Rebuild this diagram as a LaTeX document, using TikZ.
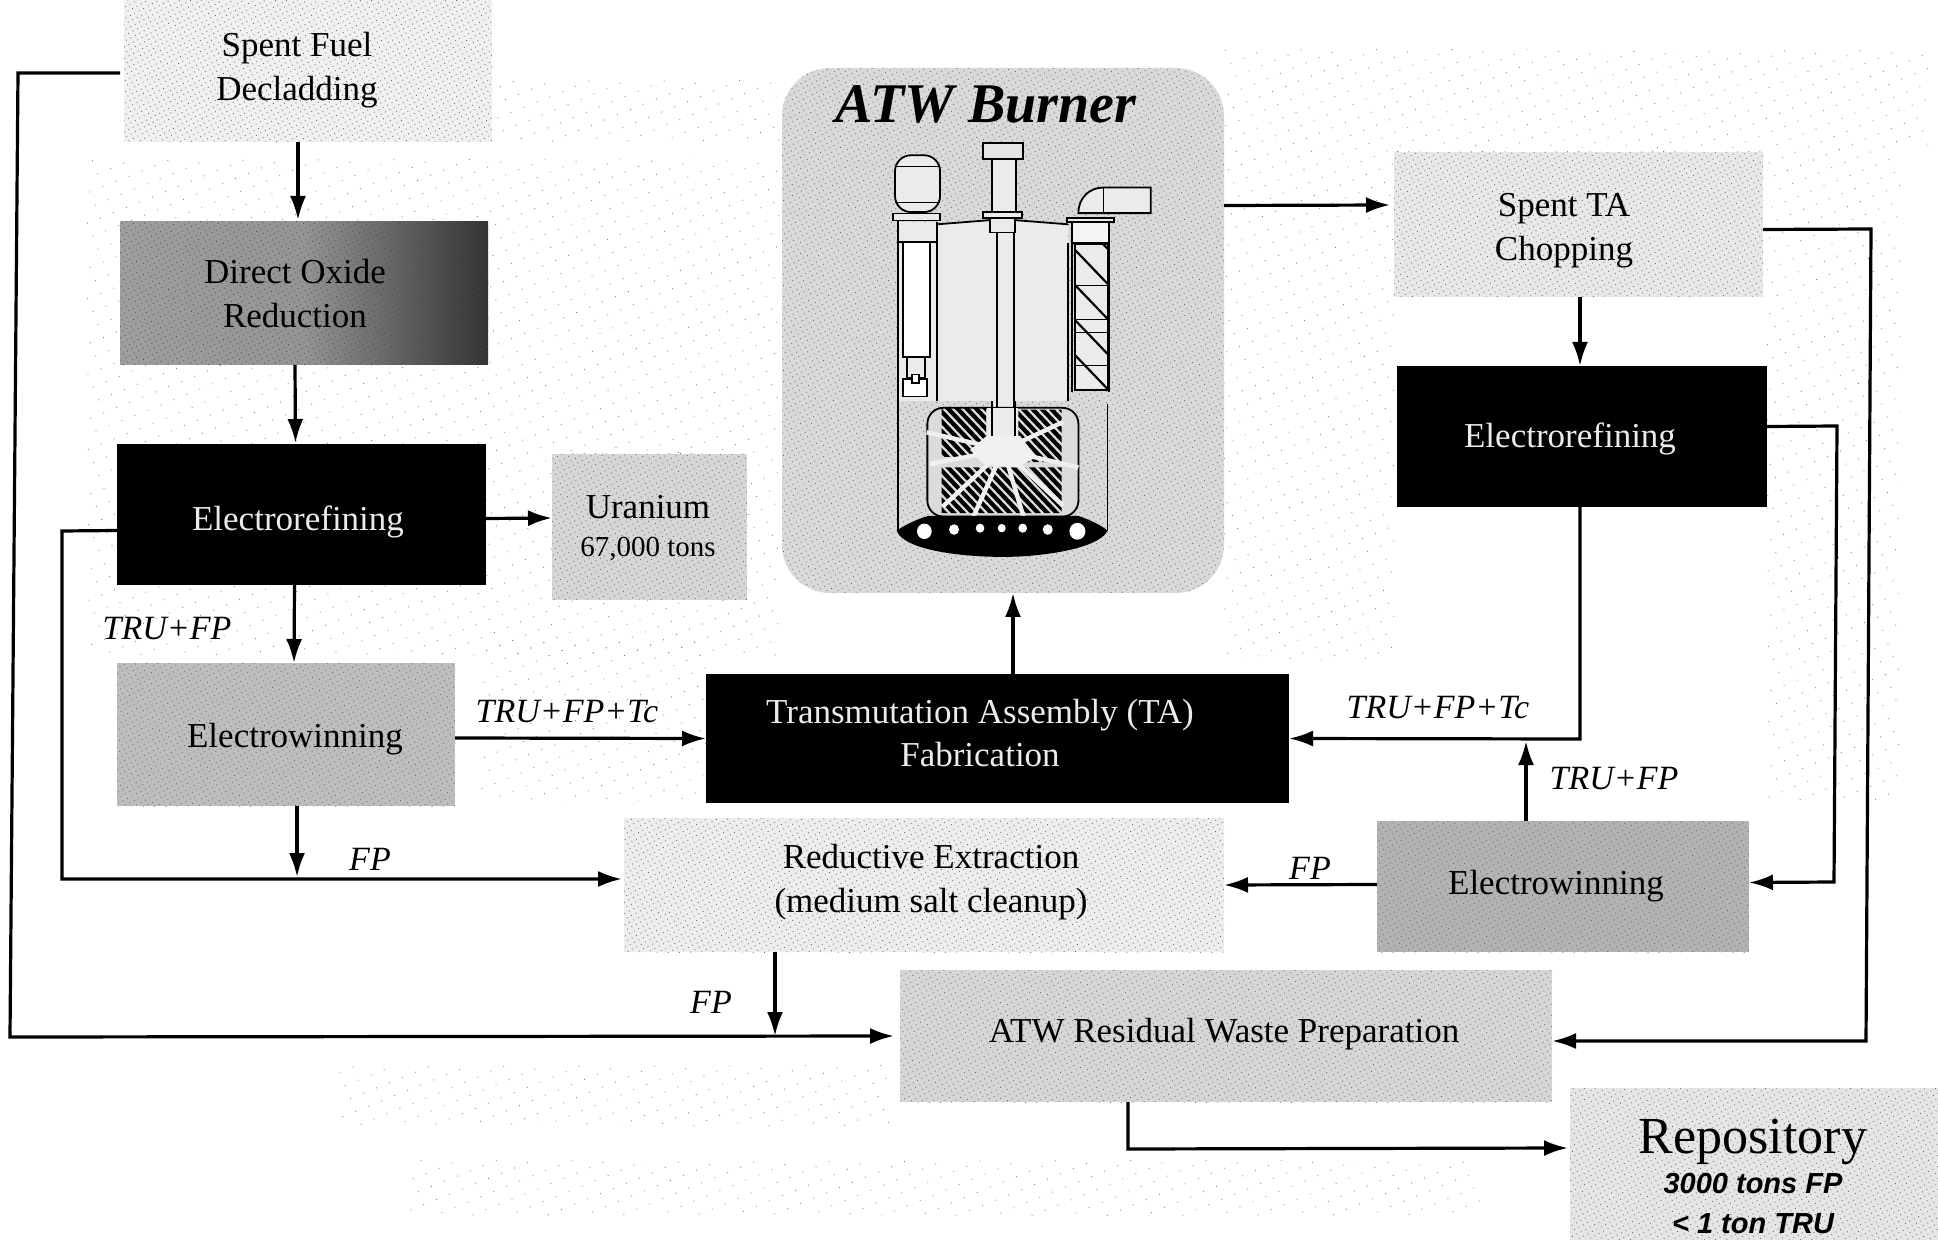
\documentclass[tikz,border=0pt]{standalone}
\usepackage{fontspec}
\setmainfont{Liberation Serif}
\newfontfamily\hsans{Liberation Sans}
\usetikzlibrary{arrows.meta,calc,patterns.meta}
\tikzset{
  htone/.style={postaction={pattern={Dots[distance=2.5pt,radius=0.3pt,angle=28]},pattern color=#1}},
  sbox/.style={rectangle,inner sep=0pt,outer sep=0pt,draw=none},
  litebox/.style={sbox,fill=black!#1,htone=black!60},
  blackbox/.style={sbox,fill=black},
  boxtext/.style={inner sep=0pt,align=center,font=\fontsize{17.5}{22}\selectfont,text=black},
  revtext/.style={inner sep=0pt,align=center,font=\fontsize{17.5}{21.5}\selectfont,text=black!8},
  flowlabel/.style={inner sep=0pt,font=\fontsize{17}{20}\selectfont\itshape},
  flow/.style={line width=1.6pt,draw=black,-{Latex[length=12pt,width=8pt]}},
  plant/.style={line width=0.9pt,draw=black},
  ghost/.style={pattern={Dots[distance=7pt,radius=0.28pt,angle=22]},pattern color=black!55},
}
\begin{document}
\begin{tikzpicture}[x=0.5pt,y=-0.5pt]
\useasboundingbox (0,0) rectangle (1938,1240);
\fill[white] (0,0) rectangle (1938,1240);

% faint scan ground
\fill[ghost] (87,160) rectangle (779,655);
\fill[ghost] (494,80) rectangle (779,142);
\fill[ghost] (1224,50) rectangle (1928,148);
\fill[ghost] (1224,148) rectangle (1394,660);
\fill[ghost] (1767,150) rectangle (1900,800);
\fill[ghost] (480,640) rectangle (706,800);
\fill[ghost] (340,1065) rectangle (890,1125);
\fill[ghost] (410,1160) rectangle (1480,1215);

% process boxes
\node[litebox=6,minimum width=184pt,minimum height=71pt] (spent) at (308,71) {};
\node[sbox,minimum width=184pt,minimum height=71.5pt,left color=black!38,right color=black!80,middle color=black!42,htone=black!70] (dor) at (304,293.5) {};
\node[blackbox,minimum width=184.5pt,minimum height=70.5pt] (erl) at (301.5,514.5) {};
\node[litebox=16,minimum width=97.5pt,minimum height=73pt] (uran) at (649.5,527) {};
\node[litebox=26,minimum width=169pt,minimum height=71.5pt] (ewl) at (286,734.5) {};
\node[blackbox,minimum width=291.5pt,minimum height=64.5pt] (ta) at (997.5,738.5) {};
\node[litebox=7,minimum width=300pt,minimum height=67pt] (redx) at (924,885) {};
\node[litebox=16,minimum width=326pt,minimum height=66pt] (resid) at (1226,1036) {};
\node[litebox=10,minimum width=184pt,minimum height=76pt] (repo) at (1754,1164) {};
\node[litebox=30,minimum width=186pt,minimum height=65.5pt] (ewr) at (1563,886.5) {};
\node[blackbox,minimum width=185pt,minimum height=70.5pt] (err) at (1582,436.5) {};
\node[litebox=9,minimum width=184.5pt,minimum height=72.5pt] (spta) at (1578.5,224.5) {};
\node[sbox,fill=black!15,rounded corners=24pt,minimum width=221pt,minimum height=262.5pt,htone=black!60] (burner) at (1003,330.5) {};

% box texts
\node[boxtext] (spentT) at (297,70) {Spent Fuel\\Decladding};
\node[boxtext] (dorT) at (295,294) {Direct Oxide\\Reduction};
\node[revtext] (erlT) at (298,522) {Electrorefining};
\node[boxtext,font=\fontsize{17.5}{20}\selectfont] (uranT) at (648,528) {Uranium\\[-1pt]{\fontsize{14.5}{17}\selectfont 67,000 tons}};
\node[boxtext] (ewlT) at (295,739) {Electrowinning};
\node[revtext] (taT) at (980,733) {Transmutation Assembly (TA)\\Fabrication};
\node[boxtext] (redxT) at (931,882) {Reductive Extraction\\(medium salt cleanup)};
\node[boxtext] (residT) at (1224,1034) {ATW Residual Waste Preparation};
\node[inner sep=0pt,font=\fontsize{26}{30}\selectfont] (repoT) at (1753,1142) {Repository};
\node[inner sep=0pt,align=center,font=\fontsize{14.5}{20}\hsans\bfseries\itshape\selectfont] (repoS) at (1753,1204) {3000 tons FP\\< 1 ton TRU};
\node[boxtext] (ewrT) at (1556,886) {Electrowinning};
\node[revtext] (errT) at (1570,439) {Electrorefining};
\node[boxtext] (sptaT) at (1564,231) {Spent TA\\Chopping};
\node[inner sep=0pt,font=\fontsize{28}{32}\selectfont\bfseries\itshape] (burnerT) at (986,104) {ATW Burner};

% reactor drawing (coordinates of a 3x crop)
\begin{scope}[shift={(770,50)},x=0.1667pt,y=-0.1754pt]
  % light interior
  \fill[black!8] (500,497) -- (665,485) -- (740,485) -- (895,497) -- (895,1000) -- (735,1000) -- (735,1100) -- (665,1100) -- (665,1000) -- (500,1000) -- cycle;
  \fill[black!8] (385,490) rectangle (500,1000);
  \fill[black!4] (905,490) rectangle (1015,550);
  \fill[white] (400,550) rectangle (480,875);
  % vessel walls
  \draw[plant] (385,485) -- (385,1370);
  \draw[plant] (1012,1010) -- (1012,1370);
  \draw[plant] (1016,490) -- (1016,975);
  \draw[plant] (500,490) -- (500,1000);
  \draw[plant] (893,550) -- (893,1000);
  \draw[plant] (905,490) -- (905,975);
  % left pump
  \draw[plant,fill=black!8,rounded corners=8pt] (375,300) rectangle (510,462);
  \draw[plant] (375,332) -- (510,332) (375,435) -- (510,435);
  \draw[plant,fill=black!8] (368,466) rectangle (510,486);
  \draw[plant] (385,548) -- (500,548);
  \draw[plant] (400,550) -- (400,875) -- (480,875) -- (480,550);
  \draw[plant,fill=black!8] (410,875) rectangle (465,935);
  \draw[plant,fill=white] (398,938) rectangle (472,988);
  \draw[plant,fill=white] (425,925) rectangle (447,950);
  % centre column
  \draw[plant,fill=black!10] (640,265) rectangle (758,310);
  \draw[plant,fill=black!8] (665,310) rectangle (738,462);
  \draw[plant,fill=black!8] (638,462) rectangle (755,480);
  \draw[plant,fill=black!8] (660,480) rectangle (735,520);
  \draw[plant] (680,520) -- (680,1100) (733,520) -- (733,1100);
  \draw[plant] (500,497) -- (660,485) (735,485) -- (895,497);
  % right duct
  \draw[plant,fill=black!8] (925,465) .. controls (925,420) and (960,392) .. (1000,392) -- (1142,392) -- (1142,465) -- cycle;
  \draw[plant] (1000,392) -- (1000,465);
  \draw[plant,fill=black!8] (890,478) rectangle (1032,490);
  \draw[plant] (905,550) -- (1016,550);
  % heat exchanger
  \begin{scope}
    \clip (915,552) rectangle (1012,970);
    \fill[black!8] (915,552) rectangle (1012,970);
    \foreach \v in {470,570,...,970} \draw[line width=1.1pt] (915,\v) -- (1012,\v+96);
    \foreach \v in {672,768,805,900} \draw[line width=0.6pt] (915,\v) -- (1012,\v);
  \end{scope}
  \draw[plant] (915,552) rectangle (1012,970);
  % core
  \draw[plant,fill=black!14,rounded corners=8pt] (472,1020) rectangle (925,1330);
  \fill[black!8] (650,1020) rectangle (745,1115);
  \begin{scope}
    \clip (515,1020) rectangle (648,1160) (745,1025) rectangle (875,1175) (515,1190) rectangle (875,1320);
    \foreach \v in {400,428,...,1320} \draw[line width=2.1pt] (500,\v) -- (900,\v+400);
  \end{scope}
  \fill[black!6] (650,1100) -- (750,1100) -- (800,1160) -- (740,1190) -- (640,1180) -- (600,1140) -- cycle;
  \foreach \ex/\ey in {470/1090,480/1180,520/1300,610/1330,760/1330,880/1300,925/1190,880/1060}
    \draw[black!6,line width=2.2pt] (700,1140) -- (\ex,\ey);
  \draw[plant] (665,1000) -- (665,1100) (735,1000) -- (735,1100);
  % lower plenum
  \fill[black] (380,1370) .. controls (410,1350) and (450,1335) .. (475,1328) -- (925,1328) .. controls (960,1340) and (995,1355) .. (1012,1370) .. controls (990,1420) and (820,1445) .. (700,1445) .. controls (570,1445) and (400,1425) .. (380,1370) -- cycle;
  \foreach \cx/\cy/\rr in {463/1372/22,552/1367/15,630/1363/13,695/1363/12,758/1363/13,833/1367/15,922/1372/24}
    \fill[white] (\cx,\cy) circle[radius=\rr];
\end{scope}

% waypoints
\coordinate (a1) at (18,73);
\coordinate (a2) at (10,1037);
\coordinate (b1) at (62,531);
\coordinate (b2) at (62,879);
\coordinate (j1) at (297,877);
\coordinate (c1) at (1871,229);
\coordinate (c2) at (1866,1041);
\coordinate (d1) at (1837,426);
\coordinate (d2) at (1834,882);
\coordinate (e1) at (1580,739);
\coordinate (j3) at (1526,741);
\coordinate (j4) at (775,1036);
\coordinate (f1) at (1128,1149);

% connectors
\draw[flow] ($(spent.south)+(-10,0)$) -- ($(dor.north)+(-6,-2)$);
\draw[flow] ($(dor.south)+(-9,0)$) -- ($(erl.north)+(-6,-1)$);
\draw[flow] ($(erl.east)+(0,4)$) -- ($(uran.west)+(0,-9)$);
\draw[flow] ($(erl.south)+(-7,0)$) -- ($(ewl.north)+(8,0)$);
\draw[flow] ($(spent.west)+(-4,2)$) -- (a1) -- (a2) -- ($(resid.west)+(-6,0)$);
\draw[flow] ($(erl.west)+(0,16)$) -- (b1) -- (b2) -- ($(redx.west)+(-2,-6)$);
\draw[flow] ($(ewl.south)+(11,0)$) -- (j1);
\draw[flow] ($(ewl.east)+(0,3.5)$) -- (ta.west);
\draw[flow] ($(ta.north)+(15.5,0)$) -- ($(burner.south)+(10,0)$);
\draw[flow] ($(burner.east)+(0,-125)$) -- ($(spta.west)+(-4,-19.5)$);
\draw[flow] ($(spta.south)+(1.5,0)$) -- ($(err.north)+(-2,0)$);
\draw[flow] ($(spta.east)+(0,5)$) -- (c1) -- (c2) -- ($(resid.east)+(0,5)$);
\draw[flow] ($(err.east)+(0,-10)$) -- (d1) -- (d2) -- ($(ewr.east)+(0,-4)$);
\draw[flow] ($(err.south)+(-2,0)$) -- (e1) -- (ta.east);
\draw[flow] ($(ewr.north)+(-37,0)$) -- (j3);
\draw[flow] ($(ewr.west)+(0,-2)$) -- (redx.east);
\draw[flow] ($(redx.south)+(-149,0)$) -- (j4);
\draw[flow] ($(resid.south)+(-98,0)$) -- (f1) -- ($(repo.west)+(-2,-16)$);

% flow labels
\node[flowlabel] (l1) at (167,629) {TRU+FP};
\node[flowlabel] (l2) at (567,712) {TRU+FP+Tc};
\node[flowlabel] (l3) at (370,859) {FP};
\node[flowlabel] (l4) at (1438,708) {TRU+FP+Tc};
\node[flowlabel] (l5) at (1614,779) {TRU+FP};
\node[flowlabel] (l6) at (1310,868) {FP};
\node[flowlabel] (l7) at (711,1002) {FP};
\end{tikzpicture}
\end{document}
